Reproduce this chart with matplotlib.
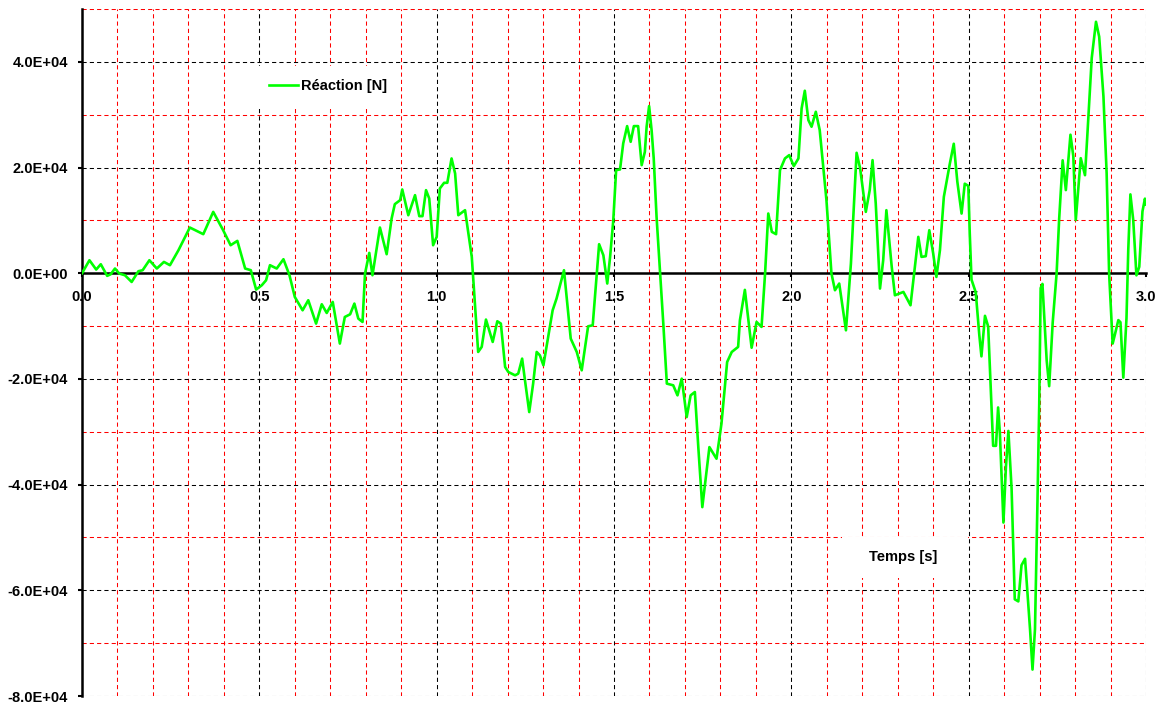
import matplotlib

matplotlib.use("Agg")

import matplotlib.pyplot as plt
from matplotlib.patches import Rectangle
from matplotlib.ticker import FuncFormatter, MultipleLocator

plt.rcParams["font.family"] = ["Liberation Sans", "DejaVu Sans"]

# Temps [s] / Réaction [N], relevé point par point sur la figure
TEMPS = [
    0.000, 0.021, 0.040, 0.053, 0.071, 0.081, 0.093, 0.105, 0.121, 0.140,
    0.159, 0.171, 0.190, 0.211, 0.231, 0.248, 0.272, 0.304, 0.342, 0.370,
    0.398, 0.419, 0.438, 0.460, 0.476, 0.491, 0.507, 0.519, 0.530, 0.549,
    0.568, 0.585, 0.600, 0.622, 0.638, 0.660, 0.676, 0.690, 0.707, 0.727,
    0.741, 0.756, 0.768, 0.779, 0.791, 0.798, 0.810, 0.819, 0.840, 0.859,
    0.873, 0.882, 0.897, 0.903, 0.920, 0.939, 0.951, 0.960, 0.970, 0.979,
    0.990, 1.000, 1.009, 1.021, 1.030, 1.042, 1.052, 1.061, 1.080, 1.099,
    1.117, 1.127, 1.139, 1.158, 1.171, 1.181, 1.193, 1.202, 1.221, 1.230,
    1.241, 1.249, 1.261, 1.272, 1.282, 1.291, 1.301, 1.327, 1.338, 1.359,
    1.378, 1.395, 1.409, 1.427, 1.440, 1.458, 1.470, 1.481, 1.489, 1.498,
    1.506, 1.517, 1.526, 1.537, 1.547, 1.556, 1.568, 1.578, 1.587, 1.592,
    1.599, 1.606, 1.612, 1.620, 1.630, 1.639, 1.649, 1.667, 1.679, 1.691,
    1.705, 1.716, 1.728, 1.738, 1.749, 1.769, 1.789, 1.803, 1.819, 1.832,
    1.850, 1.855, 1.869, 1.888, 1.902, 1.916, 1.926, 1.935, 1.945, 1.957,
    1.968, 1.982, 1.994, 2.007, 2.020, 2.029, 2.038, 2.048, 2.057, 2.069,
    2.080, 2.099, 2.113, 2.123, 2.135, 2.154, 2.168, 2.184, 2.194, 2.210,
    2.221, 2.229, 2.238, 2.250, 2.259, 2.268, 2.283, 2.292, 2.316, 2.336,
    2.344, 2.358, 2.367, 2.379, 2.389, 2.400, 2.409, 2.419, 2.430, 2.447,
    2.458, 2.468, 2.480, 2.489, 2.499, 2.503, 2.508, 2.520, 2.530, 2.536,
    2.546, 2.555, 2.565, 2.569, 2.577, 2.583, 2.588, 2.598, 2.605, 2.612,
    2.621, 2.630, 2.640, 2.649, 2.659, 2.673, 2.680, 2.687, 2.694, 2.699,
    2.703, 2.708, 2.720, 2.727, 2.737, 2.748, 2.755, 2.765, 2.774, 2.787,
    2.795, 2.802, 2.816, 2.828, 2.834, 2.847, 2.859, 2.868, 2.880, 2.889,
    2.896, 2.906, 2.912, 2.922, 2.928, 2.936, 2.945, 2.950, 2.956, 2.964,
    2.973, 2.981, 2.990, 2.997, 3.000,
]
REACTION = [
    0, 2460, 700, 1700, -500, -190, 890, -60, -380, -1650,
    380, 570, 2460, 890, 2140, 1520, 4360, 8650, 7390, 11610,
    8140, 5300, 6120, 890, 570, -3090, -2270, -1330, 1520, 890,
    2650, -380, -4490, -7010, -5110, -9530, -5870, -7520, -5430, -13310,
    -8280, -7770, -5740, -8580, -9220, -60, 3850, -380, 8650, 3600,
    10360, 13070, 13830, 15850, 10980, 14770, 10800, 10800, 15720, 14150,
    5300, 6880, 16040, 17110, 17110, 21720, 18880, 10980, 11930, 3090,
    -14900, -13940, -8770, -13000, -9090, -9530, -17740, -18690, -19320, -19000,
    -16160, -20270, -26270, -20890, -14900, -15530, -17420, -7010, -4800, 570,
    -12370, -14900, -18370, -10040, -9850, 5490, 3410, -1950, 3090, 10040,
    19510, 19640, 24560, 27840, 24870, 27840, 27840, 20450, 22970, 27720,
    31630, 27080, 21720, 10670, 0, -9530, -20890, -21210, -23110, -19950,
    -27220, -23110, -22480, -33210, -44260, -32900, -35100, -28470, -16800, -14900,
    -13940, -8900, -3150, -14100, -9220, -10160, 0, 11300, 7830, 7390,
    19510, 21720, 22350, 20270, 21720, 31190, 34530, 28980, 27720, 30550,
    27080, 13830, 0, -3220, -1950, -10800, 1830, 22790, 19830, 11610,
    15720, 21400, 13200, -2900, 2460, 11930, 1260, -4170, -3540, -6060,
    -1330, 6880, 3090, 3220, 8140, 3730, -700, 4360, 14450, 20770,
    24500, 17340, 11290, 16940, 16530, 7660, -1210, -3630, -11690, -15730,
    -8060, -10080, -26210, -32660, -32660, -25400, -30240, -47180, -36700, -29840,
    -40730, -61700, -62100, -55250, -54040, -67340, -75000, -67340, -43150, -24600,
    -2820, -2020, -16530, -21370, -9270, 0, 10080, 21370, 15730, 26210,
    22180, 10080, 21770, 18550, 25400, 40730, 47580, 44760, 33470, 18950,
    0, -13310, -11690, -8870, -9270, -19760, -8470, 4440, 14920, 10080,
    -400, 1210, 11690, 14110, 13000,
]

SERIES_LABEL = "Réaction [N]"
X_LABEL = "Temps [s]"


def fmt_y(v, _pos):
    return f"{v:.1E}"


def fmt_x(v, _pos):
    return f"{v:.1f}"


fig = plt.figure(figsize=(11.62, 7.06), dpi=100)
ax = fig.add_axes([82 / 1162, 10 / 706, 1064 / 1162, 687 / 706])

ax.plot(TEMPS, REACTION, color="#00ff00", linewidth=1.9, zorder=3,
        label=SERIES_LABEL)

ax.set_xlim(0.0, 3.0)
ax.set_ylim(-80000, 50000)
ax.xaxis.set_major_locator(MultipleLocator(0.5))
ax.xaxis.set_minor_locator(MultipleLocator(0.1))
ax.yaxis.set_major_locator(MultipleLocator(20000))
ax.yaxis.set_minor_locator(MultipleLocator(10000))
ax.xaxis.set_major_formatter(FuncFormatter(fmt_x))
ax.yaxis.set_major_formatter(FuncFormatter(fmt_y))

dash = (0, (4, 3))
ax.grid(which="major", color="black", linestyle=dash, linewidth=0.75)
ax.grid(which="minor", color="#ff0000", linestyle=dash, linewidth=0.75)
ax.set_axisbelow(True)

ax.spines[["top", "right"]].set_visible(False)
ax.spines["bottom"].set_position(("data", 0))
ax.spines["bottom"].set_linewidth(1.8)
ax.spines["left"].set_linewidth(1.8)

ax.tick_params(which="minor", length=0)
ax.tick_params(which="major", direction="out", length=3, width=1.5,
               labelsize=10.5)
ax.tick_params(axis="y", pad=7)
ax.tick_params(axis="x", pad=9)
for lab in ax.get_xticklabels() + ax.get_yticklabels():
    lab.set_fontweight("bold")

leg = ax.legend(loc="center", bbox_to_anchor=(328 / 1162, 1 - 86 / 706),
                bbox_transform=fig.transFigure, frameon=True,
                facecolor="white", edgecolor="none", framealpha=1.0,
                fancybox=False, handlelength=2.0, handletextpad=0.25,
                borderpad=0.9, prop={"weight": "bold", "size": 10.5})
leg.get_lines()[0].set_linewidth(1.9)

# titre de l'axe des temps, dans un cadre blanc comme sur l'original
ax.add_patch(Rectangle((0.7143, 0.1718), 0.1184, 0.0596,
                       transform=ax.transAxes, facecolor="white",
                       edgecolor="none", zorder=4))
ax.text(0.7716, 0.2025, X_LABEL, transform=ax.transAxes, ha="center",
        va="center", fontsize=10.5, fontweight="bold", zorder=5)

fig.savefig("out.png", dpi=100)
